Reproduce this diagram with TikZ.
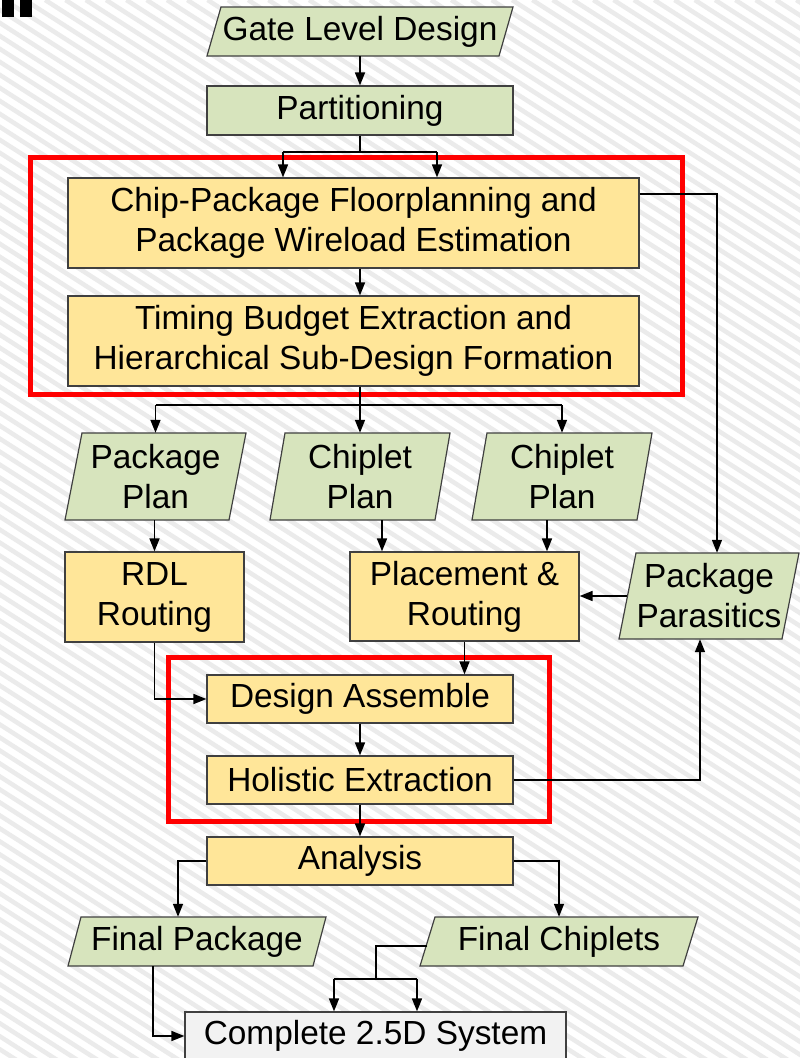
\documentclass[tikz,border=0pt]{standalone}
\usepackage{fontspec}
\setmainfont{Liberation Sans}
\usetikzlibrary{arrows.meta}

\definecolor{boxgreen}{HTML}{D7E4BD}
\definecolor{boxyellow}{HTML}{FFE699}
\definecolor{boxgray}{HTML}{F2F2F2}
\definecolor{edgegray}{HTML}{404040}
\definecolor{stripegray}{HTML}{EBEBEB}
\definecolor{markred}{HTML}{FF0000}

\tikzset{
  flowtext/.style={font=\fontsize{33.4}{40}\selectfont, align=center, inner sep=0pt},
  procbox/.style={flowtext, draw=edgegray, line width=1.2pt, rectangle},
  greenbox/.style={procbox, fill=boxgreen},
  yellowbox/.style={procbox, fill=boxyellow},
  graybox/.style={procbox, fill=boxgray},
  datashape/.style={fill=boxgreen, draw=edgegray, line width=1.2pt},
  conn/.style={line width=1.5pt, black},
  arr/.style={conn, -{Triangle[length=13pt,width=10pt]}},
  groupframe/.style={draw=markred, line width=5pt},
  stripe/.style={draw=stripegray, line width=4.5pt},
}

% slanted data block: name, bottom-left x, bottom-right x, top y, bottom y, slant, text
\newcommand\dataslab[7]{%
  \path[datashape] (#2,#5) -- (#3,#5) -- ({#3+#6},#4) -- ({#2+#6},#4) -- cycle;
  \node[flowtext, minimum width={#3-#2}, minimum height={#5-#4}] (#1)
    at ({(#2+#3+#6)/2},{(#4+#5)/2}) {#7};
}

\begin{document}
\begin{tikzpicture}[x=1pt, y=-1pt]
\useasboundingbox (0,0) rectangle (800,1058);

% hatched background
\begin{scope}
  \clip (0,0) rectangle (800,1058);
  \fill[white] (0,0) rectangle (800,1058);
  \foreach \k in {-1660,-1639.7,...,800} {
    \draw[stripe] (\k,0) -- ++(2600,1664);
  }
\end{scope}

% corner marks
\fill[black] (2,0) rectangle (14,17);
\fill[black] (20,0) rectangle (32,17);

% group frames
\draw[groupframe] (30,157) rectangle (682,394);
\draw[groupframe] (168,657) rectangle (549,821);

% blocks
\dataslab{gate}{207}{499}{7}{56}{14}{Gate Level Design}
\node[greenbox, minimum width=306, minimum height=49] (part) at (360,110.5) {Partitioning};

\node[yellowbox, minimum width=571, minimum height=90] (cpf) at (353.5,223)
  {Chip-Package Floorplanning and\\Package Wireload Estimation};
\node[yellowbox, minimum width=571, minimum height=90] (tbe) at (353.5,341)
  {Timing Budget Extraction and\\Hierarchical Sub-Design Formation};

\dataslab{pkgplan}{65}{229}{433}{520}{17}{Package\\Plan}
\dataslab{cp1}{270}{435}{433}{520}{15}{Chiplet\\Plan}
\dataslab{cp2}{472}{637}{433}{520}{15}{Chiplet\\Plan}

\node[yellowbox, minimum width=179, minimum height=90] (rdl) at (154.5,597) {RDL\\Routing};
\node[yellowbox, minimum width=229, minimum height=89] (pnr) at (464.5,596.5) {Placement \&\\Routing};
\dataslab{pp}{619}{782}{553}{639}{17}{Package\\Parasitics}

\node[yellowbox, minimum width=306, minimum height=48] (da) at (360,699) {Design Assemble};
\node[yellowbox, minimum width=306, minimum height=48] (he) at (360,780) {Holistic Extraction};
\node[yellowbox, minimum width=306, minimum height=48] (ana) at (360,861) {Analysis};

\dataslab{fpk}{68}{313}{917}{966}{13}{Final Package}
\dataslab{fch}{420}{683}{917}{966}{15}{Final Chiplets}

\node[graybox, minimum width=381, minimum height=48] (sys) at (375.5,1036) {Complete 2.5D System};

% connectors
\draw[arr] (gate.south) -- (part.north);

\coordinate (split1) at (360,152);
\coordinate (split1l) at (283,152);
\coordinate (split1r) at (437,152);
\draw[conn] (part.south) -- (split1);
\draw[conn] (split1l) -- (split1r);
\draw[arr] (split1l) -- (split1l |- cpf.north);
\draw[arr] (split1r) -- (split1r |- cpf.north);

\draw[arr] (cpf.south -| split1) -- (tbe.north -| split1);
\draw[arr] ([yshift=29]cpf.east) -| ([xshift=8]pp.north);

\coordinate (split2) at (360,405);
\draw[conn] (tbe.south -| split2) -- (split2);
\draw[conn] (split2 -| pkgplan.north) -- (split2 -| cp2.north);
\draw[arr] (split2 -| pkgplan.north) -- (pkgplan.north);
\draw[arr] (split2) -- (cp1.north);
\draw[arr] (split2 -| cp2.north) -- (cp2.north);

\draw[arr] (pkgplan.south -| rdl.north) -- (rdl.north);
\coordinate (c1) at ([xshift=22]cp1.south);
\draw[arr] (c1) -- (c1 |- pnr.north);
\coordinate (c2) at ([xshift=-15]cp2.south);
\draw[arr] (c2) -- (c2 |- pnr.north);
\draw[arr] (pp.west) -- (pp.west -| pnr.east);

\draw[arr] (pnr.south) -- (pnr.south |- da.north);
\draw[arr] (rdl.south) |- (da.west);
\draw[arr] (da.south) -- (he.north);
\draw[arr] (he.east) -| ([xshift=-9]pp.south);
\draw[arr] (he.south) -- (ana.north);

\draw[arr] (ana.west) -| ([xshift=-19]fpk.north);
\draw[arr] (ana.east) -| (fch.north);
\draw[arr] ([xshift=-44]fpk.south) |- (sys.west);

\coordinate (j3) at (376,979);
\coordinate (j3l) at (334,979);
\coordinate (j3r) at (417,979);
\draw[conn] ([yshift=-4.5]fch.west) -| (j3);
\draw[conn] (j3l) -- (j3r);
\draw[arr] (j3l) -- (j3l |- sys.north);
\draw[arr] (j3r) -- (j3r |- sys.north);
\end{tikzpicture}
\end{document}
